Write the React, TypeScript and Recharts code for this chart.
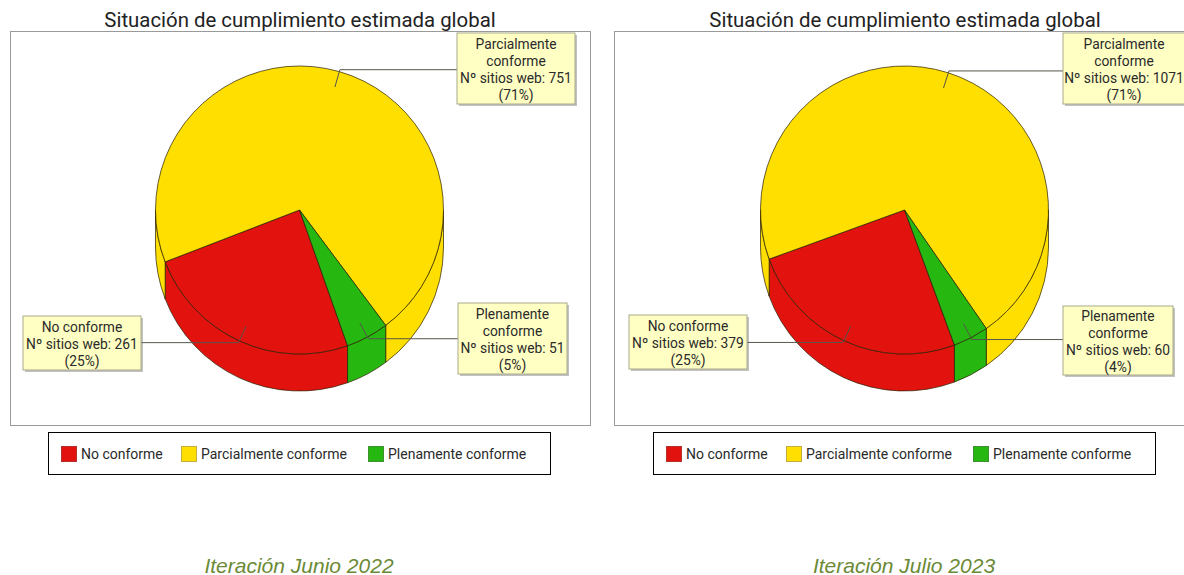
import { Legend, Pie, PieChart } from "recharts";

const CATEGORIES = ["No conforme", "Parcialmente conforme", "Plenamente conforme"];
const CATEGORY_LINES = [["No conforme"], ["Parcialmente", "conforme"], ["Plenamente", "conforme"]];
const VALUES_2022 = [261, 751, 51];
const VALUES_2023 = [379, 1071, 60];
const COLORS = ["#e2130f", "#ffdf00", "#27b711"];
const LEGEND_BORDERS = ["#b5302c", "#c4ad3c", "#3f9030"];

const WIDTH = 600;
const HEIGHT = 480;
const RADIUS = 144;
const DEPTH = 37;
const EDGE = "rgba(40,30,0,0.7)";
const FONT = "Roboto, sans-serif";

interface CalloutBox {
  x: number;
  y: number;
  w: number;
  h: number;
}

const rad = (a: number) => (a * Math.PI) / 180;

// side wall of one slice, only the part of the arc facing the viewer
function WallSector(props: any) {
  const { cx, cy, outerRadius: r, startAngle, endAngle, fill } = props;
  const lo = Math.min(startAngle, endAngle);
  const hi = Math.max(startAngle, endAngle);
  const px = (a: number) => cx + r * Math.cos(rad(a));
  const py = (a: number) => cy - r * Math.sin(rad(a));
  const paths: string[] = [];
  [-1, 0, 1].forEach((k) => {
    const a1 = Math.max(lo, 180 + 360 * k);
    const a2 = Math.min(hi, 360 + 360 * k);
    if (a2 <= a1) return;
    paths.push(
      `M${px(a1)},${py(a1)} A${r},${r} 0 0 0 ${px(a2)},${py(a2)} ` +
        `L${px(a2)},${py(a2) + DEPTH} A${r},${r} 0 0 1 ${px(a1)},${py(a1) + DEPTH} Z`
    );
  });
  return (
    <g>
      {paths.map((d) => (
        <path key={d} d={d} fill={fill} stroke={EDGE} strokeWidth={1} />
      ))}
    </g>
  );
}

function makeCallout(boxes: CalloutBox[], total: number) {
  return function renderCallout(props: any) {
    const { cx, cy, midAngle, outerRadius: r, index, value } = props;
    const box = boxes[index];
    const cos = Math.cos(rad(midAngle));
    const sin = Math.sin(rad(midAngle));
    const sx = cx + (r - 16) * cos;
    const sy = cy - (r - 16) * sin;
    const ex = cx + (r + 2) * cos;
    const ey = cy - (r + 2) * sin;
    const right = ex < box.x;
    const lines = [
      ...CATEGORY_LINES[index],
      `Nº sitios web: ${value}`,
      `(${Math.round((value / total) * 100)}%)`,
    ];
    const boxMid = box.x + box.w / 2;
    const top = box.y + (box.h - lines.length * 17) / 2 + 14;
    return (
      <g>
        <polyline
          points={`${sx},${sy} ${ex},${ey} ${right ? box.x : box.x + box.w},${ey}`}
          fill="none"
          stroke="#55554a"
          strokeWidth={1}
        />
        <rect x={box.x + 2} y={box.y + 2} width={box.w} height={box.h} fill="rgba(120,120,120,0.45)" />
        <rect x={box.x} y={box.y} width={box.w} height={box.h} fill="#ffffc4" stroke="#a9a98c" strokeWidth={1} />
        {lines.map((line, i) => (
          <text
            key={line}
            x={boxMid}
            y={top + i * 17}
            textAnchor="middle"
            fontFamily={FONT}
            fontSize={13.8}
            fill="#2a2a2a"
          >
            {line}
          </text>
        ))}
      </g>
    );
  };
}

function LegendBox({ payload }: any) {
  const slots = [12, 132, 319];
  // both pies report their slices, keep one entry per category
  const entries = CATEGORIES.map((name) => (payload || []).find((p: any) => p.value === name)).filter(Boolean);
  return (
    <div
      style={{
        position: "relative",
        width: 501,
        height: 41,
        border: "1px solid #000",
        background: "#fff",
        fontFamily: FONT,
        fontSize: 14,
        color: "#2a2a2a",
      }}
    >
      {entries.map((entry: any, i: number) => (
        <div key={entry.value} style={{ position: "absolute", left: slots[i], top: 13, display: "flex", alignItems: "center", whiteSpace: "nowrap" }}>
          <span
            style={{
              display: "inline-block",
              boxSizing: "border-box",
              width: 16,
              height: 16,
              marginRight: 4,
              background: COLORS[i],
              border: `1px solid ${LEGEND_BORDERS[i]}`,
            }}
          />
          {entry.value}
        </div>
      ))}
    </div>
  );
}

interface PanelProps {
  left: number;
  frameLeft: number;
  values: number[];
  startAngle: number;
  boxes: CalloutBox[];
  caption: string;
}

function Panel({ left, frameLeft, values, startAngle, boxes, caption }: PanelProps) {
  const total = values.reduce((a, b) => a + b, 0);
  const data = CATEGORIES.map((name, i) => ({ name, value: values[i], fill: COLORS[i] }));
  return (
    <div style={{ position: "absolute", left, top: 0, width: WIDTH, height: 575 }}>
      <div
        style={{
          position: "absolute",
          left: 0,
          width: WIDTH,
          top: 9,
          textAlign: "center",
          fontFamily: FONT,
          fontSize: 20.4,
          lineHeight: "22px",
          color: "#222",
        }}
      >
        Situación de cumplimiento estimada global
      </div>
      <div
        style={{
          position: "absolute",
          left: frameLeft,
          top: 31,
          width: 579,
          height: 393,
          border: "1px solid #9a9a9a",
          background: "#fff",
        }}
      />
      <div style={{ position: "absolute", left: 0, top: 0 }}>
        <PieChart width={WIDTH} height={HEIGHT} margin={{ top: 0, right: 0, bottom: 0, left: 0 }}>
          <Pie
            data={data}
            dataKey="value"
            nameKey="name"
            cx={299.5}
            cy={210}
            outerRadius={RADIUS}
            startAngle={startAngle}
            endAngle={startAngle - 360}
            shape={WallSector}
            legendType="none"
            isAnimationActive={false}
          />
          <Pie
            data={data}
            dataKey="value"
            nameKey="name"
            cx={299.5}
            cy={210}
            outerRadius={RADIUS}
            startAngle={startAngle}
            endAngle={startAngle - 360}
            stroke={EDGE}
            strokeWidth={1}
            label={makeCallout(boxes, total)}
            labelLine={false}
            isAnimationActive={false}
          />
          <Legend
            content={<LegendBox />}
            wrapperStyle={{ position: "absolute", left: 48, top: 432, width: 503, height: 43 }}
          />
        </PieChart>
      </div>
      <div
        style={{
          position: "absolute",
          left: -1,
          width: WIDTH,
          top: 557,
          textAlign: "center",
          fontFamily: "'Liberation Sans', sans-serif",
          fontStyle: "italic",
          fontSize: 21,
          lineHeight: "18px",
          color: "#6b8a35",
        }}
      >
        {caption}
      </div>
    </div>
  );
}

const BOXES_2022: CalloutBox[] = [
  { x: 23, y: 316, w: 118, h: 54 },
  { x: 457, y: 33, w: 118, h: 71 },
  { x: 458, y: 303, w: 109, h: 71 },
];

const BOXES_2023: CalloutBox[] = [
  { x: 24, y: 315, w: 118, h: 54 },
  { x: 458, y: 33, w: 122, h: 71 },
  { x: 458, y: 306, w: 110, h: 69 },
];

export default function App() {
  return (
    <div style={{ position: "absolute", left: 0, top: 0, width: 1184, height: 575, overflow: "hidden", background: "#fff" }}>
      <Panel left={0} frameLeft={10} values={VALUES_2022} startAngle={289.5} boxes={BOXES_2022} caption="Iteración Junio 2022" />
      <Panel left={605} frameLeft={9} values={VALUES_2023} startAngle={290.3} boxes={BOXES_2023} caption="Iteración Julio 2023" />
    </div>
  );
}
